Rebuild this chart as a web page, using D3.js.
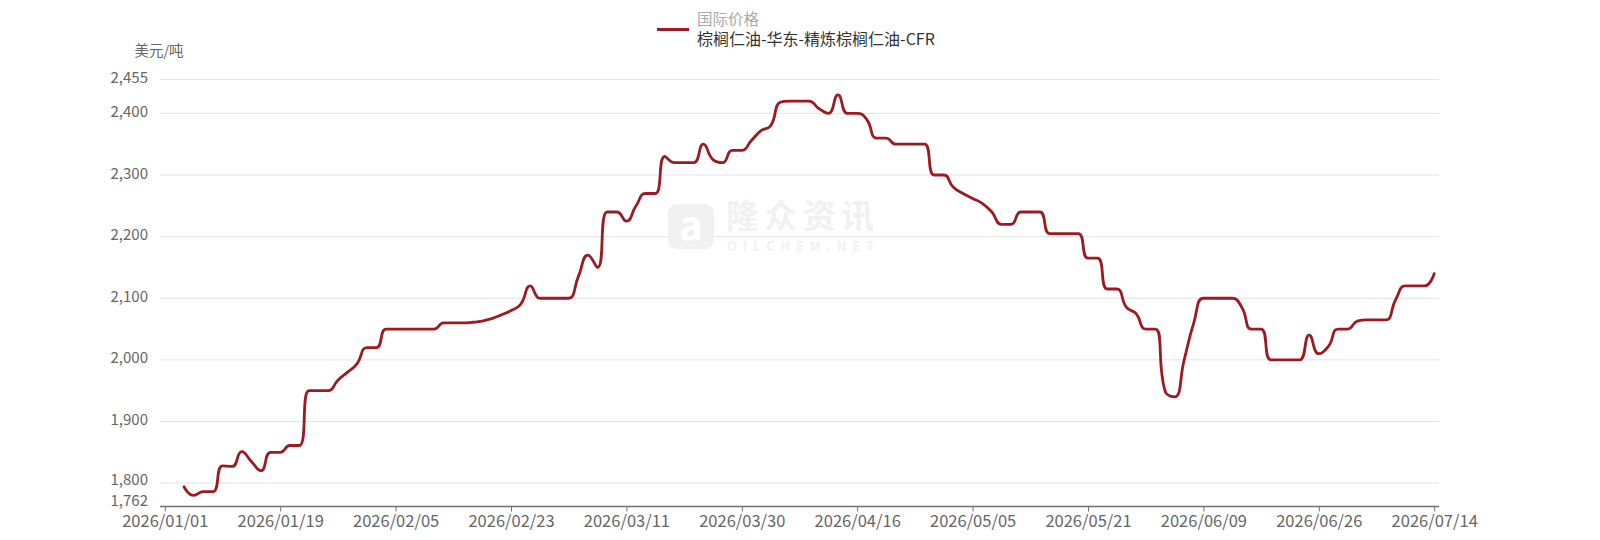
<!DOCTYPE html>
<html>
<head>
<meta charset="utf-8">
<script src="https://cdn.jsdelivr.net/npm/d3@7"></script>
<style>
  html, body { margin: 0; padding: 0; background: #fff; }
  svg { display: block; }
  text { font-family: "Noto Sans CJK SC", "Noto Sans", sans-serif; }
</style>
</head>
<body>
<svg id="chart" width="1600" height="540"></svg>
<script>
// ---------- DATA ----------
const dates = [
  "2026/01/01","2026/01/02","2026/01/05","2026/01/06","2026/01/07","2026/01/08","2026/01/09","2026/01/12","2026/01/13","2026/01/14",
  "2026/01/15","2026/01/16","2026/01/19","2026/01/20","2026/01/21","2026/01/22","2026/01/23","2026/01/26","2026/01/27","2026/01/28",
  "2026/01/29","2026/02/02","2026/02/03","2026/02/04","2026/02/05","2026/02/06","2026/02/09","2026/02/10","2026/02/11","2026/02/12",
  "2026/02/13","2026/02/16","2026/02/17","2026/02/18","2026/02/19","2026/02/20","2026/02/23","2026/02/24","2026/02/25","2026/02/26",
  "2026/02/27","2026/03/02","2026/03/03","2026/03/04","2026/03/05","2026/03/06","2026/03/09","2026/03/10","2026/03/11","2026/03/12",
  "2026/03/13","2026/03/16","2026/03/17","2026/03/18","2026/03/19","2026/03/23","2026/03/24","2026/03/25","2026/03/26","2026/03/27",
  "2026/03/30","2026/03/31","2026/04/01","2026/04/02","2026/04/03","2026/04/07","2026/04/08","2026/04/09","2026/04/10","2026/04/13",
  "2026/04/14","2026/04/15","2026/04/16","2026/04/17","2026/04/20","2026/04/21","2026/04/22","2026/04/23","2026/04/24","2026/04/27",
  "2026/04/28","2026/04/29","2026/04/30","2026/05/04","2026/05/05","2026/05/06","2026/05/07","2026/05/08","2026/05/11","2026/05/12",
  "2026/05/13","2026/05/14","2026/05/15","2026/05/18","2026/05/19","2026/05/20","2026/05/21","2026/05/22","2026/05/25","2026/05/26",
  "2026/05/27","2026/05/28","2026/06/01","2026/06/02","2026/06/03","2026/06/04","2026/06/05","2026/06/08","2026/06/09","2026/06/10",
  "2026/06/11","2026/06/12","2026/06/15","2026/06/16","2026/06/17","2026/06/18","2026/06/22","2026/06/23","2026/06/24","2026/06/25",
  "2026/06/26","2026/06/29","2026/06/30","2026/07/01","2026/07/02","2026/07/03","2026/07/06","2026/07/07","2026/07/08","2026/07/09",
  "2026/07/10","2026/07/13","2026/07/14"
];

const prices = [
  null, null, 1794, 1780, 1786, 1786, 1828, 1827, 1851, 1835,
  1820, 1850, 1850, 1861, 1861, 1950, 1950, 1950, 1967, 1980,
  1994, 2020, 2020, 2050, 2050, 2050, 2050, 2050, 2050, 2060,
  2060, 2060, 2061, 2063, 2067, 2073, 2080, 2090, 2120, 2100,
  2100, 2100, 2100, 2135, 2170, 2150, 2240, 2240, 2225, 2250,
  2270, 2270, 2330, 2320, 2320, 2320, 2350, 2325, 2320, 2340,
  2340, 2356, 2372, 2380, 2418, 2420, 2420, 2420, 2408, 2400,
  2430, 2400, 2400, 2390, 2360, 2360, 2350, 2350, 2350, 2350,
  2300, 2300, 2280, 2270, 2262, 2254, 2240, 2220, 2220, 2240,
  2240, 2240, 2205, 2205, 2205, 2205, 2165, 2165, 2115, 2115,
  2085, 2075, 2050, 2050, 1950, 1940, 2000, 2060, 2100, 2100,
  2100, 2100, 2085, 2050, 2050, 2000, 2000, 2000, 2000, 2040,
  2010, 2022, 2050, 2050, 2063, 2065, 2065, 2065, 2098, 2120,
  2120, 2120, 2140
];

const xTickLabels = ["2026/01/01","2026/01/19","2026/02/05","2026/02/23","2026/03/11","2026/03/30",
                     "2026/04/16","2026/05/05","2026/05/21","2026/06/09","2026/06/26","2026/07/14"];
const yTicks = [1762, 1800, 1900, 2000, 2100, 2200, 2300, 2400, 2455];
const yDomain = [1762, 2455];

const legendGroup = "国际价格";
const seriesName = "棕榈仁油-华东-精炼棕榈仁油-CFR";
const yUnit = "美元/吨";

// ---------- LAYOUT ----------
const gridLeft = 160, gridRight = 1439, gridTop = 79.5, gridBottom = 506.5;
const lineColor = "#9c1a21";
const latinFont = "\"Noto Sans\", \"Noto Sans CJK SC\", sans-serif";

const svg = d3.select("#chart");

const x = d3.scalePoint().domain(dates).range([gridLeft, gridRight]).padding(0.5);
const y = d3.scaleLinear().domain(yDomain).range([gridBottom, gridTop]);

// ECharts-like smooth curve (smooth = 0.5 with clamped control points)
function EcCurve(context) { this._context = context; this._smooth = 0.5; }
EcCurve.prototype = {
  areaStart() {}, areaEnd() {},
  lineStart() { this._pts = []; },
  point(px, py) { this._pts.push([+px, +py]); },
  lineEnd() {
    const ctx = this._context, pts = this._pts, s = this._smooth;
    const n = pts.length;
    if (!n) return;
    let prevX, prevY, cpx0, cpy0, cpx1, cpy1;
    for (let i = 0; i < n; i++) {
      const [px, py] = pts[i];
      if (i === 0) { ctx.moveTo(px, py); cpx0 = px; cpy0 = py; }
      else {
        let nextCpx0 = px, nextCpy0 = py;
        if (i + 1 >= n) { cpx1 = px; cpy1 = py; }
        else {
          const [nx, ny] = pts[i + 1];
          let vx = nx - prevX, vy = ny - prevY;
          const dx0 = px - prevX, dx1 = nx - px, dy0 = py - prevY, dy1 = ny - py;
          const lenPrev = Math.sqrt(dx0 * dx0 + dy0 * dy0);
          const lenNext = Math.sqrt(dx1 * dx1 + dy1 * dy1);
          const ratio = lenNext / (lenNext + lenPrev);
          nextCpx0 = px + vx * s * ratio;
          nextCpy0 = py + vy * s * ratio;
          nextCpx0 = Math.min(nextCpx0, Math.max(nx, px));
          nextCpy0 = Math.min(nextCpy0, Math.max(ny, py));
          nextCpx0 = Math.max(nextCpx0, Math.min(nx, px));
          nextCpy0 = Math.max(nextCpy0, Math.min(ny, py));
          vx = nextCpx0 - px; vy = nextCpy0 - py;
          cpx1 = px - vx * lenPrev / lenNext;
          cpy1 = py - vy * lenPrev / lenNext;
          cpx1 = Math.min(cpx1, Math.max(prevX, px));
          cpy1 = Math.min(cpy1, Math.max(prevY, py));
          cpx1 = Math.max(cpx1, Math.min(prevX, px));
          cpy1 = Math.max(cpy1, Math.min(prevY, py));
          vx = px - cpx1; vy = py - cpy1;
          nextCpx0 = px + vx * lenNext / lenPrev;
          nextCpy0 = py + vy * lenNext / lenPrev;
        }
        ctx.bezierCurveTo(cpx0, cpy0, cpx1, cpy1, px, py);
        cpx0 = nextCpx0; cpy0 = nextCpy0;
      }
      prevX = px; prevY = py;
    }
  }
};
const curveEc = ctx => new EcCurve(ctx);

// ---------- GRID LINES ----------
svg.append("g").selectAll("line").data(yTicks.filter(t => t !== yDomain[0])).join("line")
  .attr("x1", gridLeft).attr("x2", gridRight)
  .attr("y1", d => y(d)).attr("y2", d => y(d))
  .attr("stroke", "#e3e3e3").attr("stroke-width", 1);

// ---------- WATERMARK ----------
const wm = svg.append("g");
wm.append("rect").attr("x", 668).attr("y", 204).attr("width", 46).attr("height", 45).attr("rx", 9)
  .attr("fill", "#f1f1f1");
wm.append("text").attr("x", 691).attr("y", 240).attr("text-anchor", "middle")
  .attr("font-family", latinFont)
  .attr("font-size", 40).attr("font-weight", "bold").attr("fill", "#ffffff").text("a");
wm.append("text").attr("x", 726).attr("y", 227.5).attr("font-size", 33).attr("font-weight", "bold")
  .attr("fill", "#f1f1f1").attr("textLength", 148).text("隆众资讯");
wm.append("text").attr("x", 727).attr("y", 251).attr("font-size", 12.5).attr("font-weight", "bold")
  .attr("font-family", latinFont)
  .attr("fill", "#f1f1f1").attr("textLength", 147).text("OILCHEM.NET");

// ---------- X AXIS ----------
const xAxis = d3.axisBottom(x).tickValues(xTickLabels).tickSize(5).tickPadding(4);
const gx = svg.append("g").attr("transform", `translate(0,${gridBottom})`).call(xAxis);
gx.select(".domain").remove();
gx.append("line").attr("x1", gridLeft).attr("x2", gridRight).attr("y1", 0).attr("y2", 0)
  .attr("stroke", "#6e7079").attr("stroke-width", 1.3);
gx.selectAll(".tick line").attr("stroke", "#6e7079");
gx.selectAll(".tick text").attr("fill", "#666").attr("font-size", 16.5)
  .attr("font-family", latinFont);

// ---------- Y AXIS ----------
const yAxis = d3.axisLeft(y).tickValues(yTicks).tickSize(0).tickPadding(0).tickFormat(d3.format(","));
const gy = svg.append("g").attr("transform", `translate(148,0)`).call(yAxis);
gy.select(".domain").remove();
gy.selectAll(".tick text").attr("fill", "#666").attr("font-size", 15)
  .attr("dy", d => d === 1762 ? "-0.09em" : (d === 1800 ? "0.1em" : "0.2em"))
  .attr("font-family", latinFont);

svg.append("text").attr("x", 159).attr("y", 56).attr("text-anchor", "middle")
  .attr("font-size", 14.5).attr("fill", "#666").text(yUnit);

// ---------- LINE ----------
const line = d3.line()
  .defined(d => d.v != null)
  .x(d => x(d.date))
  .y(d => y(d.v))
  .curve(curveEc);

const series = dates.map((d, i) => ({ date: d, v: prices[i] }));
svg.append("path").datum(series)
  .attr("d", line)
  .attr("fill", "none")
  .attr("stroke", lineColor)
  .attr("stroke-width", 2.8)
  .attr("stroke-linejoin", "round")
  .attr("stroke-linecap", "round");

// ---------- LEGEND ----------
svg.append("line").attr("x1", 657).attr("x2", 689).attr("y1", 29.5).attr("y2", 29.5)
  .attr("stroke", lineColor).attr("stroke-width", 3);
svg.append("text").attr("x", 697).attr("y", 24.5).attr("font-size", 15.5).attr("fill", "#aaa").text(legendGroup);
svg.append("text").attr("x", 697).attr("y", 44.5).attr("font-size", 16).attr("fill", "#333").text(seriesName);
</script>
</body>
</html>
